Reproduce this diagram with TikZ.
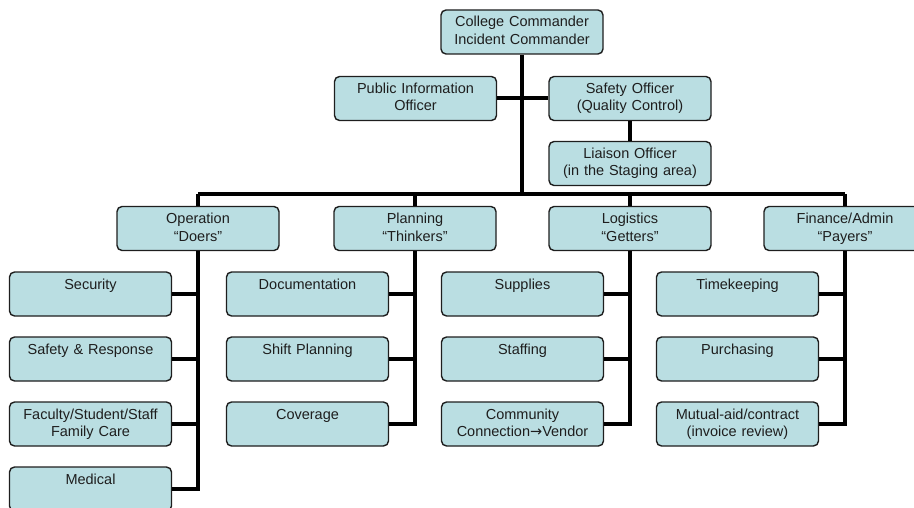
\documentclass[tikz,border=0pt]{standalone}
\usepackage{fontspec}
\setmainfont{Liberation Sans}
\newfontfamily\arrowfont{DejaVu Sans}
\definecolor{boxblue}{RGB}{186,222,226}
\definecolor{inkgray}{RGB}{30,30,30}
\begin{document}
\begin{tikzpicture}[x=1pt, y=-1pt,
    box/.style={draw=inkgray, line width=1.4pt, rounded corners=5pt, fill=boxblue,
        text=inkgray, font=\fontsize{14.5}{17.5}\selectfont, align=center,
        text width=154pt, minimum width=162pt, inner xsep=4pt, inner ysep=3pt,
        text height=14pt, text depth=24pt},
    conn/.style={line width=4pt, black}]
    \useasboundingbox (0,0) rectangle (914,508);
    \clip (0,0) rectangle (914,508);

    % Command staff
    \node[box] (cc) at (522, 32) {College Commander\\Incident Commander};
    \node[box] (pio) at (415.5, 98.5) {Public Information\\Officer};
    \node[box] (safety) at (630, 98.5) {Safety Officer\\(Quality Control)};
    \node[box] (liaison) at (630, 163.5) {Liaison Officer\\(in the Staging area)};
    \coordinate (bus) at (522, 194);

    % Sections
    \node[box] (ops) at (198, 228.5) {Operation\\“Doers”};
    \node[box] (plan) at (415, 228.5) {Planning\\“Thinkers”};
    \node[box] (logi) at (630, 228.5) {Logistics\\“Getters”};
    \node[box] (fin) at (845, 228.5) {Finance/Admin\\“Payers”};

    % Connectors of the command staff
    \draw[conn] (cc.south) -- (bus);
    \draw[conn] (pio.east) -- (safety.west);
    \draw[conn] (safety.south) -- (liaison.north);
    \draw[conn] (ops.north |- bus) -- (fin.north |- bus);
    \foreach \n in {ops, plan, logi, fin} {
        \draw[conn] (\n.north) -- (\n.north |- bus);
    }

    % Operation units
    \foreach \i/\txt in {1/Security, 2/Safety \& Response, 3/{Faculty/Student/Staff\\Family Care}, 4/Medical} {
        \node[box] (ops\i) at (90.5, {229+65*\i}) {\txt};
    }
    \foreach \i in {1,2,3} {
        \draw[conn] (ops\i.east) -- (ops\i.east -| ops.south);
    }
    \draw[conn] (ops.south) |- (ops4.east);

    % Planning units
    \foreach \i/\txt in {1/Documentation, 2/Shift Planning, 3/Coverage} {
        \node[box] (plan\i) at (307.5, {229+65*\i}) {\txt};
    }
    \foreach \i in {1,2} {
        \draw[conn] (plan\i.east) -- (plan\i.east -| plan.south);
    }
    \draw[conn] (plan.south) |- (plan3.east);

    % Logistics units
    \foreach \i/\txt in {1/Supplies, 2/Staffing, 3/{Community\\Connection{\arrowfont →}Vendor}} {
        \node[box] (logi\i) at (522.5, {229+65*\i}) {\txt};
    }
    \foreach \i in {1,2} {
        \draw[conn] (logi\i.east) -- (logi\i.east -| logi.south);
    }
    \draw[conn] (logi.south) |- (logi3.east);

    % Finance/Admin units
    \foreach \i/\txt in {1/Timekeeping, 2/Purchasing, 3/{Mutual-aid/contract\\(invoice review)}} {
        \node[box] (fin\i) at (737.5, {229+65*\i}) {\txt};
    }
    \foreach \i in {1,2} {
        \draw[conn] (fin\i.east) -- (fin\i.east -| fin.south);
    }
    \draw[conn] (fin.south) |- (fin3.east);
\end{tikzpicture}
\end{document}
